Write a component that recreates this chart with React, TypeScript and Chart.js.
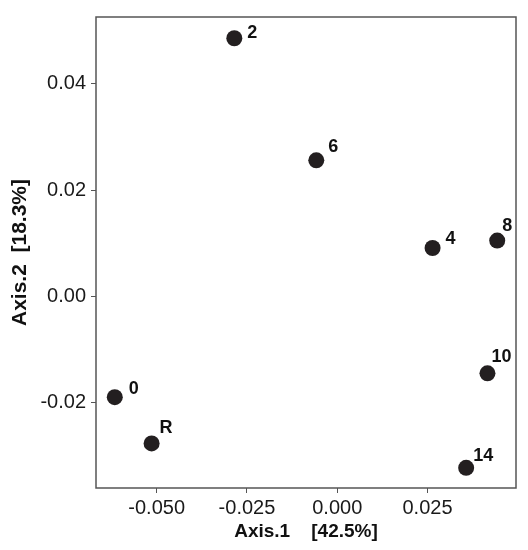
import React, { useEffect, useRef } from "react";
import { Chart, registerables } from "chart.js";

Chart.register(...registerables);

const sampleLabels = ["2", "6", "4", "8", "10", "14", "0", "R"];
const axis1Values = [-0.0285, -0.0058, 0.0264, 0.0443, 0.0416, 0.0357, -0.0616, -0.0514];
const axis2Values = [0.0486, 0.0256, 0.0091, 0.0105, -0.0145, -0.0323, -0.019, -0.0277];
const xTickValues = [-0.05, -0.025, 0, 0.025];
const yTickValues = [-0.02, 0, 0.02, 0.04];
const xTitle = "Axis.1    [42.5%]";
const yTitle = "Axis.2  [18.3%]";
// label nudges (px) relative to each point, in the order of sampleLabels
const labelNudgeX = [13, 12, 13, 5, 4, 7, 14, 8];
const labelNudgeY = [-5, -13, -9, -15, -16, -12, -8, -15];

const FONT = "'Liberation Sans', Arial, sans-serif";

export default function App() {
  const ref = useRef<HTMLCanvasElement | null>(null);

  useEffect(() => {
    if (!ref.current) return;
    const labelPlugin = {
      id: "pointLabels",
      afterDatasetsDraw(chart: any) {
        const ctx = chart.ctx;
        const meta = chart.getDatasetMeta(0);
        ctx.save();
        ctx.font = `bold 18px ${FONT}`;
        ctx.fillStyle = "#111";
        ctx.textAlign = "left";
        ctx.textBaseline = "middle";
        meta.data.forEach((el: any, i: number) => {
          ctx.fillText(sampleLabels[i], el.x + labelNudgeX[i], el.y + labelNudgeY[i]);
        });
        ctx.restore();
      },
    };
    const framePlugin = {
      id: "frame",
      afterDraw(chart: any) {
        const { left, top, right, bottom } = chart.chartArea;
        const ctx = chart.ctx;
        ctx.save();
        ctx.strokeStyle = "#555";
        ctx.lineWidth = 1.5;
        ctx.strokeRect(left, top, right - left, bottom - top);
        ctx.restore();
      },
    };
    const chart = new Chart(ref.current, {
      type: "scatter",
      data: {
        datasets: [
          {
            data: axis1Values.map((x, i) => ({ x, y: axis2Values[i] })),
            backgroundColor: "#231f20",
            borderWidth: 0,
            pointRadius: 8,
            pointHoverRadius: 8,
          },
        ],
      },
      options: {
        animation: false,
        responsive: false,
        devicePixelRatio: 1,
        layout: { padding: { left: 0, top: 16, right: 12, bottom: 0 } },
        plugins: { legend: { display: false }, tooltip: { enabled: false } },
        scales: {
          x: {
            type: "linear",
            min: -0.0668,
            max: 0.0495,
            afterFit(scale: any) {
              scale.height = 62;
            },
            afterBuildTicks(scale: any) {
              scale.ticks = xTickValues.map((v) => ({ value: v }));
            },
            ticks: {
              font: { size: 20, family: FONT },
              color: "#1a1a1a",
              padding: 3,
              maxRotation: 0,
              autoSkip: false,
              callback: (v: any) => (Math.abs(v) < 1e-9 ? 0 : Number(v)).toFixed(3),
            },
            grid: { drawOnChartArea: false, drawTicks: true, tickLength: 5, color: "#555" },
            border: { display: false },
            title: {
              display: true,
              text: xTitle,
              font: { size: 19, weight: "bold", family: FONT },
              color: "#111",
              padding: { top: 0, bottom: 7 },
            },
          },
          y: {
            type: "linear",
            min: -0.0361,
            max: 0.0526,
            afterFit(scale: any) {
              scale.width = 96;
            },
            afterBuildTicks(scale: any) {
              scale.ticks = yTickValues.map((v) => ({ value: v }));
            },
            ticks: {
              font: { size: 20, family: FONT },
              color: "#1a1a1a",
              padding: 5,
              autoSkip: false,
              callback: (v: any) => (Math.abs(v) < 1e-9 ? 0 : Number(v)).toFixed(2),
            },
            grid: { drawOnChartArea: false, drawTicks: true, tickLength: 5, color: "#555" },
            border: { display: false },
            title: {
              display: true,
              text: yTitle,
              font: { size: 21, weight: "bold", family: FONT },
              color: "#111",
              padding: { top: 8, bottom: 0 },
            },
          },
        },
      },
      plugins: [labelPlugin, framePlugin],
    } as any);
    return () => chart.destroy();
  }, []);

  return (
    <div style={{ position: "absolute", left: 0, top: 0, width: 528, height: 550, background: "#fff" }}>
      <canvas ref={ref} width={528} height={550} style={{ width: 528, height: 550 }} />
    </div>
  );
}
